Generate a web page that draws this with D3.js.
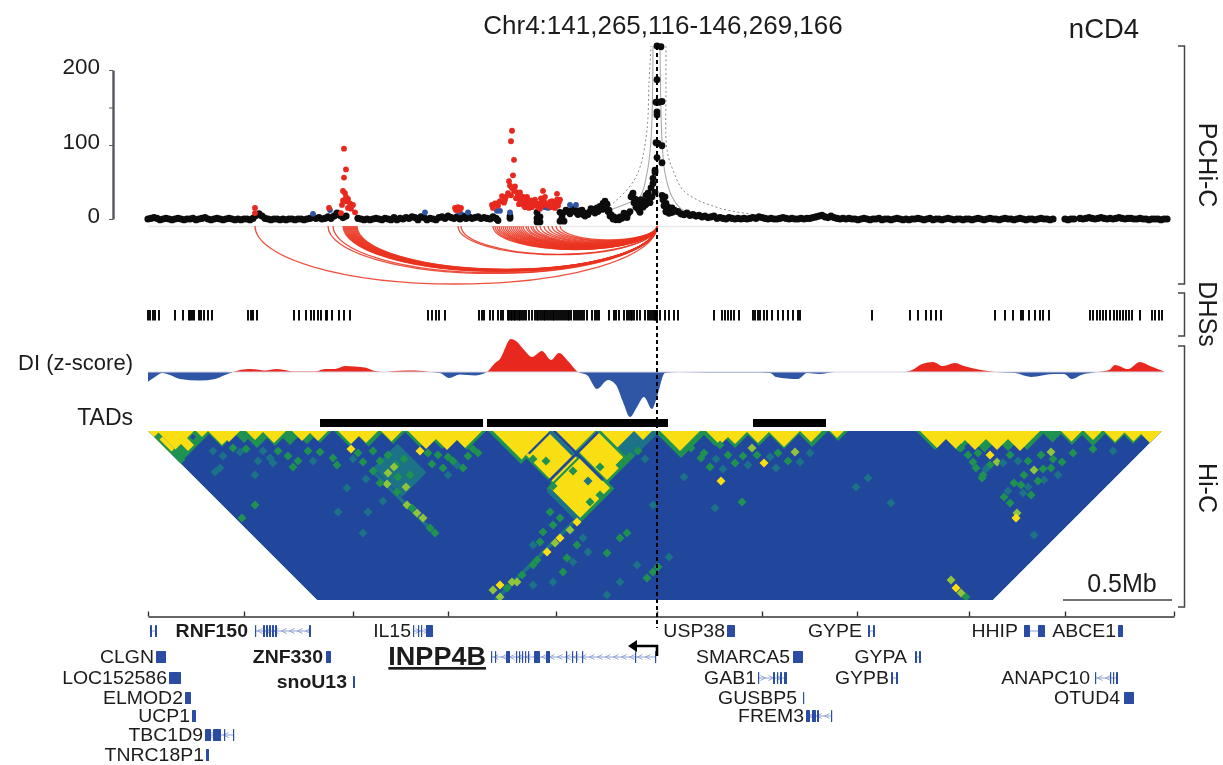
<!DOCTYPE html>
<html><head><meta charset="utf-8">
<script src="https://cdn.jsdelivr.net/npm/d3@7/dist/d3.min.js"></script>
<style>
html,body{margin:0;padding:0;background:#fff}
svg{display:block;filter:blur(0.6px)}
text{font-family:"Liberation Sans",Arial,sans-serif;fill:#1c1c1c}
</style></head><body><div id="chart"></div>
<script>
// genomic position is expressed in bins of ~4.9 kb from chr4:141,265,116
const axisTicks=[0,96,205,300,408,509,614,709,821,917,1026];
const viewpoint=509;
const yTicks=[0,100,150,200];
const yLabels=[0,100,200];
// PCHi-C: background (black) interactions, one value every 3 bins
const blackLeft=[2,3,4,3,1,2,3,2,1,2,3,2,1,2,2,3,1,2,3,4,2,1,2,3,2,1,2,3,2,1,2,1,2,2,1,3,7,9,6,3,2,1,2,2,1,2,1,2,2,1,2,2,1,2,3,4,3,4,2,3,5,3,6,10,7,4,6,null,null,null,3,2,1,2,1,2,3,2,1,3,2,1,4,1,3,2,4,3,5,4,1,5,4,1,3,2,1,4,5,3,6,4,3,5,2,6,3,5,3,4,5,3,4,3,2,5,3];
const blackMid=[[350,-2],[362,1],[362,4],[389,-4],[389,1],[389,9],[392,-4],[392,3],[412,-3],[412,9],[414,2],[416,-3],[420,10],[424,12],[428,9],[431,11],[435,6],[438,8],[442,10],[446,13],[449,15],[452,17],[455,21],[458,15],[460,10],[462,4],[465,0],[469,0],[472,3],[477,5],[480,7],[484,32],[485,35],[483,30],[487,27],[488,16],[490,14],[492,9],[494,21],[497,19],[499,26],[500,35],[501,30],[503,42],[505,55],[505,48],[507,63],[507,66],[508,103],[508,157],[509,144],[509,140],[509,187],[509,83],[509,232],[510,102],[511,157],[513,231],[514,158],[514,99],[514,76],[507,36],[514,32],[517,30],[515,26],[518,21],
[415,8],[418,12],[422,7],[426,14],[430,6],[434,12],[437,4],[440,6],[443,14],[447,8],[450,10],[454,13],[457,24],[459,20],[461,12],[463,6],[466,3],[468,-1],[471,-1],[474,1],[476,8],[479,2],[482,10],[486,22],[489,20],[491,12],[493,26],[495,16],[498,32],[498,20],[504,30],[502,22],[516,18],[520,16],[522,14],[524,15],[526,12]];
const blackRight=[12,10,11,13,12,9,8,10,7,8,6,7,5,6,4,5,6,3,4,3,2,4,3,2,3,2,3,2,3,4,3,5,4,3,2,3,2,2,3,4,3,2,3,2,2,3,2,3,3,4,5,6,7,5,4,6,4,3,2,3,2,3,2,2,1,2,3,2,1,2,2,3,1,2,2,1,2,3,2,1,2,1,2,2,3,2,1,2,3,1,2,2,1,2,3,2,1,2,2,1,2,2,1,2,3,2,1,2,3,2,2,1,2,3,2,2,1,2,3,2,1,2,2,1,2,3,2,2,1,2,null,null,null,2,1,2,2,null,3,2,3,4,3,2,3,4,3,2,3,2,3,4,3,2,3,3,2,2,3,2,2,1,2,2,2,1,2,2];
const redPoints=[[107,15],[107,8],[196,95],[198,67],[196,56],[195,38],[197,35],[198,30],[194,19],[202,21],[205,19],[200,15],[207,9],[193,8],[181,15],[310,16],[307,15],[313,15],[308,12],[311,12],[364,119],[363,105],[366,80],[365,59],[361,51],[367,44],[360,35],[369,36],[354,31],[370,32],[357,26],[349,21],[344,19],[345,15],[375,30],[379,26],[382,21],[374,21],[377,16],[387,19],[395,38],[397,30],[392,21],[372,36],[379,30],[384,16],[402,23],[409,34],[409,26],[406,21],[411,23],[390,16],
[362,45],[364,42],[366,38],[363,32],[368,28],[358,30],[356,22],[352,24],[350,18],[347,21],[372,26],[374,30],[371,20],[377,24],[380,20],[383,25],[385,21],[387,26],[376,18],[381,15],[389,21],[393,28],[396,24],[394,18],[398,20],[392,14],[400,18],[404,24],[407,15],[410,18],[412,26],[403,16],[198,24],[200,27],[195,25],[203,14]];
const bluePoints=[[165,7],[182,12],[277,9],[312,9],[320,9],[349,11],[352,11],[362,9],[397,16],[400,15],[422,19],[428,19]];
const expectedOuter=[[[445,9],[455,12],[469,26],[484,48],[492,70],[499,120],[501,183],[503,232]],[[518,232],[518,173],[519,93],[525,66],[535,39],[549,26],[562,19],[579,12],[612,5]]];
const expectedInner=[[[455,9],[479,21],[492,30],[499,62],[503,106],[505,232]],[[512,232],[514,106],[517,62],[524,30],[535,12],[562,5],[640,2]]];
const arcStarts=[107,180,185,195,196,197,198,199,200,201,202,203,204,205,206,207,208,209,310,313,345,347,349,351,353,355,357,359,361,363,365,367,369,371,373,375,378,380,383,385,388,392,396,400,404,408,412];
const dhsSites=[0,2,5,7,11,27,35,41,42,44,46,51,53,56,60,64,100,103,105,109,146,151,158,163,166,170,173,178,179,184,191,196,202,280,284,288,291,297,331,334,336,342,345,350,353,355,360,361,363,364,366,367,369,371,372,374,376,378,381,384,387,389,390,392,394,396,397,399,401,403,405,406,408,410,412,414,416,418,420,421,423,426,428,430,432,434,436,439,444,447,449,451,461,466,468,471,476,479,481,483,484,486,489,492,497,500,502,504,506,507,508,509,512,517,521,526,530,566,574,577,580,583,586,591,605,607,610,612,616,619,624,630,635,640,645,650,652,724,762,770,778,783,788,793,847,857,865,873,875,881,887,892,895,901,942,945,949,952,955,958,962,966,969,972,975,978,981,984,992,1004,1007,1011,1014];
// directionality index (bin, z-score)
const diValues=[[0,-.65],[7,-.33],[14,-.07],[22,-.2],[32,-.47],[52,-.57],[67,-.47],[77,-.2],[85,0],[102,.2],[117,.1],[129,.2],[147,.03],[167,.03],[177,.2],[187,.2],[197,.4],[217,.3],[227,.07],[237,0],[247,.07],[267,.1],[282,0],[292,-.07],[301,-.4],[312,-.17],[327,-.23],[337,-.07],[339,0],[347,.6],[352,.87],[363,2.2],[368,2.07],[377,1.4],[384,1],[394,1.4],[403,.8],[411,1.27],[420,.73],[430,0],[439,-.2],[449,-1.13],[460,-.53],[468,-.87],[475,-2],[482,-3],[489,-2.33],[496,-1.67],[504,-2.47],[509,-1.67],[517,-.07],[530,0],[560,-.03],[605,-.03],[622,-.07],[628,-.33],[650,-.47],[659,-.07],[671,-.13],[688,0],[757,0],[764,.13],[774,.53],[785,.67],[795,.4],[807,.6],[816,.4],[833,.13],[847,0],[867,-.07],[883,-.33],[905,-.13],[916,-.13],[924,-.47],[933,-.2],[950,0],[961,.13],[967,.47],[980,.2],[992,.67],[1002,.4],[1016,.03]];
const tads=[[172,335],[339,520],[605,678]];
// Hi-C: contact level 0 (blue) to 4 (yellow)
const hicLevels=["#20479c","#1c7286","#1f9150","#8fc43c","#f8de13"];
// triangles on the diagonal: from, to, level
const hicTriangles=[[0,64,2],[58,90,2],[84,108,2],[92,126,2],[112,142,2],[128,156,2],[146,172,2],[160,184,2],[186,216,2],[205,236,2],[232,258,2],[256,288,2],[276,312,2],[300,338,2],[340,406,2],[402,452,2],[448,512,1],[506,560,2],[552,582,2],[570,604,2],[596,626,2],[618,654,2],[648,680,2],[680,700,2],[768,806,2],[790,832,2],[815,858,2],[840,880,2],[860,898,2],[893,916,2],[910,938,2],[930,960,2],[954,980,2],[972,998,2],[990,1014,2],
[0,46,4],[20,60,4],[60,88,4],[70,92,4],[98,116,4],[114,138,4],[144,164,4],[160,180,4],[190,216,4],[206,230,4],[233,254,4],[260,296,4],[280,318,4],[300,334,4],[512,552,4],[558,586,4],[574,600,4],[598,622,4],[620,652,4],[652,674,4],[682,696,4],[772,806,4],[790,826,4],[808,846,4],[830,868,4],[852,892,4],[913,934,4],[936,954,4],[956,978,4],[975,996,4],[990,1014,4],
[345,402,4],[402,449,4],[449,486,4],[486,504,4]];
// rectangles in contact space: i from, i to, j from, j to, level
const hicBlocks=[[182,187,266,386,1],[178,345,514,519,1],[0,9,12,66,2],[3,9,20,44,4],[188,237,262,320,1],[32,48,46,62,2],
[341,409,456,524,2],[351,404,402,458,2],[406,453,447,512,2],[345,405,459,519,4],[354,402,402,456,4],[410,449,449,508,4],
[404,408,405,504,0],[351,449,449,453,0],[358,402,402,405,0],[338,345,459,520,1],[399,404,402,449,1],[36,42,48,54,0]];
// isolated cells: bin midpoint, half separation, level
const hicSpots=[[145,36,2],[107,44,1],[199,57,1],[107,74,2],[94,87,2],[215,102,1],[190,81,1],[220,81,1],[235,70,1],[259,74,3],[239,53,3],[272,20,4],[203,18,4],[284,33,2],[215,31,2],[185,27,2],[189,34,2],[72,37,1],[67,41,1],[85,17,2],[92,21,1],[122,27,1],[172,21,2],[315,37,2],[309,34,1],[295,37,2],[269,82,3],[275,87,3],[282,97,2],[287,102,2],[264,77,2],[249,61,2],
[225,20,2],[232,30,2],[240,24,2],[248,34,2],[256,28,2],[240,42,3],[225,40,2],[250,46,2],[262,44,2],[232,52,2],[218,48,1],[270,40,1],[258,56,3],[246,36,3],[280,22,2],[160,20,2],[165,30,1],[130,20,2],[125,32,1],[140,25,2],[150,30,2],[115,20,1],[110,30,1],[65,20,1],[75,25,1],[98,18,2],[205,28,1],[210,22,2],[290,24,2],[300,26,2],[305,30,2],[320,25,2],[330,22,2],[325,18,2],[300,44,1],
[429,91,4],[422,99,3],[412,107,4],[407,112,3],[399,121,4],[389,129,2],[385,134,2],[374,144,2],[364,151,3],[352,154,4],[345,159,3],[352,166,3],[359,157,2],[369,151,3],[405,94,2],[395,101,2],[429,114,2],[435,107,1],[419,127,2],[425,131,1],[392,111,2],[385,114,1],[472,107,2],[479,102,2],[459,122,2],[472,151,1],[499,147,2],[489,134,1],[415,141,2],[405,151,1],[385,154,1],[459,164,1],[505,141,2],[440,121,1],[402,81,2],[412,87,2],[442,71,2],[452,64,2],[472,34,2],[476,30,2],[425,40,2],[452,36,2],[440,50,1],[398,30,2],[385,28,2],[405,55,2],[490,20,2],[497,28,1],[482,25,2],
[553,27,2],[562,36,2],[543,17,2],[573,50,4],[572,14,2],[587,32,2],[594,71,2],[604,17,3],[616,32,4],[609,24,2],[628,37,1],[647,21,3],[652,31,1],[536,46,1],[567,77,1],[510,136,2],[521,126,1],[505,74,1],[720,47,1],[708,56,1],[743,72,1],[808,157,4],[803,149,3],[818,166,2],[813,162,3],[813,17,2],[825,31,2],[835,44,2],[842,24,4],[849,31,3],[828,37,2],[903,21,3],[893,24,2],[886,39,3],[873,54,2],[856,66,2],[862,72,2],[869,82,3],[868,87,4],[883,64,2],[903,37,2],[914,31,2],[896,49,1],[886,104,1],[876,44,2],[866,52,2],[834,47,2],
[556,22,2],[568,28,1],[580,24,2],[595,25,2],[600,34,1],[622,26,1],[630,22,2],[640,30,2],[662,22,1],[575,38,1],[820,24,2],[830,22,2],[842,34,2],[838,38,1],[855,32,1],[862,24,2],[870,30,1],[880,30,2],[895,38,2],[905,28,2],[910,44,1],[880,56,1],[890,50,2],[875,62,1],[860,60,1],[925,22,2],[945,18,2],[965,20,1]];
const hicCell=4.5;
// genes
const geneNames=["","RNF150","IL15","USP38","GYPE","HHIP","ABCE1","CLGN","ZNF330","INPP4B","SMARCA5","GYPA","LOC152586","snoU13","GAB1","GYPB","ANAPC10","ELMOD2","GUSBP5","OTUD4","UCP1","FREM3","TBC1D9","TNRC18P1"];
const geneLanes=[0,0,0,0,0,0,0,1,1,1,1,1,2,2.2,2,2,2,3,3,3,4,4,5,6];
const geneStrand=[0,-1,1,0,0,0,0,0,0,-1,0,0,0,0,1,0,-1,0,0,0,0,-1,-1,0];
const geneExons=[[[2,4],[7,9]],[[107,108],[115,117],[118,120],[121,123],[124,126],[127,129],[161,163]],[[265,266],[270,271],[273,274],[278,285]],[[579,587]],[[720,722],[725,727]],[[876,882],[890,897]],[[970,975]],[[8,18]],[[178,183]],[[343,344],[347,348],[358,362],[368,369],[371,372],[374,375],[377,378],[380,381],[386,392],[398,402],[418,419],[424,425],[428,429],[434,435],[487,488],[507,508]],[[645,655]],[[767,769],[771,773]],[[21,33]],[[205,207]],[[610,611],[625,627],[629,630],[632,634],[636,639]],[[743,745],[748,750]],[[947,948],[962,963],[965,966],[968,970]],[[37,43]],[[655,656]],[[976,986]],[[44,48]],[[658,662],[664,668],[669,671],[683,684]],[[57,63],[65,73],[76,77],[85,86]],[[58,61]]];
const boldGenes=["RNF150","ZNF330","snoU13","INPP4B"];
const labelGaps={RNF150:7,snoU13:6,GUSBP5:6,GYPA:8,GYPE:6,HHIP:6,ANAPC10:5,OTUD4:4,SMARCA5:3,ZNF330:3};
const tracks=["PCHi-C","DHSs","Hi-C"];
const sideLabels=["DI (z-score)","TADs"];

const svg=d3.select("#chart").append("svg").attr("width",1223).attr("height",765);
const x=d3.scaleLinear([0,1026],[148,1174]);
const y=d3.scaleLinear([0,100,200],[219,145,70]);
const di=d3.scaleLinear([-3,3],[417,327]);
const hicY=d3.scaleLinear([0,338],[431,600]);
const lanes=d3.scaleLinear([0,1,2,3,4,5,6],[631,657,678,698,716,735,755]);
const level=d3.scaleOrdinal([0,1,2,3,4],hicLevels);
const red="#e8281e",blue="#2f55a5";

// title
svg.append("text").attr("x",663).attr("y",34).attr("text-anchor","middle").attr("font-size",26).text("Chr4:141,265,116-146,269,166");
svg.append("text").attr("x",1104).attr("y",38).attr("text-anchor","middle").attr("font-size",27.5).text("nCD4");

// y axis
const ya=svg.append("g").attr("transform","translate(113,0)").call(d3.axisLeft(y).tickValues(yTicks).tickSize(4).tickSizeOuter(0).tickFormat(""));
ya.selectAll("path,line").attr("stroke","#55555d");ya.select("path").attr("stroke-width",2.4);
svg.selectAll(".ylab").data(yLabels).join("text").attr("x",100).attr("y",d=>y(d)+4).attr("text-anchor","end").attr("font-size",22.5).text(d=>d);

// baseline + expected curves
svg.append("line").attr("x1",x(0)).attr("x2",x(1012)).attr("y1",226.5).attr("y2",226.5).attr("stroke","#ececec").attr("stroke-width",1.6);
const curveX=d3.line().x(d=>x(d[0])).y(d=>y(d[1])).curve(d3.curveCatmullRom);
svg.selectAll(".eo").data(expectedOuter).join("path").attr("d",curveX).attr("fill","none").attr("stroke","#888").attr("stroke-width",1).attr("stroke-dasharray","2 2.5");
svg.selectAll(".ei").data(expectedInner).join("path").attr("d",curveX).attr("fill","none").attr("stroke","#aaa").attr("stroke-width",1.1);

// PCHi-C points
const band=[...blackLeft.map((v,k)=>[k*3,v]),...blackRight.map((v,k)=>[518+k*3,v])].filter(d=>d[1]!==null);
svg.selectAll(".bd").data(band).join("circle").attr("cx",d=>x(d[0])).attr("cy",d=>y(d[1])+1.5).attr("r",3.6).attr("fill","#0c0c0c");
svg.selectAll(".b").data(blackMid).join("circle").attr("cx",d=>x(d[0])).attr("cy",d=>y(d[1])).attr("r",3.4).attr("fill","#0c0c0c");
svg.selectAll(".bl").data(bluePoints).join("circle").attr("cx",d=>x(d[0])).attr("cy",d=>y(d[1])).attr("r",2.9).attr("fill",blue);
svg.selectAll(".r").data(redPoints).join("circle").attr("cx",d=>x(d[0])).attr("cy",d=>y(d[1])).attr("r",2.9).attr("fill",red);

// arcs
const arcDepth=d3.scaleLinear([0,402],[0,58]);
svg.selectAll(".arc").data(arcStarts).join("path")
 .attr("d",s=>{const rx=(x(viewpoint)-x(s))/2,ry=arcDepth(viewpoint-s);return `M${x(s)},226 A${rx},${ry} 0 0 0 ${x(viewpoint)},226`;})
 .attr("fill","none").attr("stroke","#ea3420").attr("stroke-width",1.3).attr("stroke-opacity",.85);

// DHS
svg.selectAll(".dhs").data(dhsSites).join("line").attr("x1",d=>x(d)).attr("x2",d=>x(d)).attr("y1",310).attr("y2",320.5).attr("stroke","#000").attr("stroke-width",1.9);

// DI
const defs=svg.append("defs");
defs.append("clipPath").attr("id","pos").append("rect").attr("x",140).attr("y",320).attr("width",1040).attr("height",di(0)-320);
defs.append("clipPath").attr("id","neg").append("rect").attr("x",140).attr("y",di(0)).attr("width",1040).attr("height",60);
const diArea=d3.area().x(d=>x(d[0])).y0(di(0)).y1(d=>di(d[1])).curve(d3.curveMonotoneX);
svg.append("path").attr("d",diArea(diValues)).attr("fill",red).attr("clip-path","url(#pos)");
svg.append("path").attr("d",diArea(diValues)).attr("fill",blue).attr("clip-path","url(#neg)");
svg.append("line").attr("x1",x(0)).attr("x2",x(1016)).attr("y1",di(0)).attr("y2",di(0)).attr("stroke","#d9d4e4").attr("stroke-width",1);

// side labels
svg.append("text").attr("x",133).attr("y",370).attr("text-anchor","end").attr("font-size",22).text(sideLabels[0]);
svg.append("text").attr("x",133).attr("y",425).attr("text-anchor","end").attr("font-size",23).text(sideLabels[1]);

// TADs
svg.selectAll(".tad").data(tads).join("rect").attr("x",d=>x(d[0])).attr("width",d=>x(d[1])-x(d[0])).attr("y",419).attr("height",8).attr("fill","#000");

// Hi-C
const pt=(i,j)=>[x((i+j)/2),hicY(j-i)];
const poly=c=>"M"+c.map(d=>pt(d[0],d[1]).join(",")).join("L")+"Z";
defs.append("clipPath").attr("id","hic").append("path").attr("d",poly([[0,0],[0,338],[676,1014],[1014,1014]]));
const hic=svg.append("g").attr("clip-path","url(#hic)");
hic.append("path").attr("d",poly([[0,0],[0,338],[676,1014],[1014,1014]])).attr("fill",hicLevels[0]);
hic.selectAll(".tri").data(hicTriangles).join("path").attr("d",d=>poly([[d[0],d[0]],[d[0],d[1]],[d[1],d[1]]])).attr("fill",d=>level(d[2]));
hic.selectAll(".blk").data(hicBlocks).join("path").attr("d",d=>poly([[d[0],d[2]],[d[1],d[2]],[d[1],d[3]],[d[0],d[3]]])).attr("fill",d=>level(d[4]));
hic.selectAll(".spot").data(hicSpots).join("path").attr("d",d=>{const i=d[0]-d[1],j=d[0]+d[1],c=hicCell;return poly([[i-c,j-c],[i+c,j-c],[i+c,j+c],[i-c,j+c]]);}).attr("fill",d=>level(d[2]));

// scale bar
svg.append("text").attr("x",1122).attr("y",592).attr("text-anchor","middle").attr("font-size",25).text("0.5Mb");
svg.append("line").attr("x1",x(915)).attr("x2",x(1024)).attr("y1",600).attr("y2",600).attr("stroke","#444").attr("stroke-width",1.5);

// genome axis
const xa=svg.append("g").attr("transform","translate(0,616.5)").call(d3.axisTop(x).tickValues(axisTicks).tickSize(5).tickSizeOuter(0).tickFormat(""));
xa.selectAll("path,line").attr("stroke","#333").attr("stroke-width",1.4);

// viewpoint line
svg.append("line").attr("x1",x(viewpoint)).attr("x2",x(viewpoint)).attr("y1",46).attr("y2",628).attr("stroke","#000").attr("stroke-width",2).attr("stroke-dasharray","4 3");

// genes
const genes=geneNames.map((name,k)=>({name,lane:geneLanes[k],strand:geneStrand[k],exons:geneExons[k]}));
const gg=svg.selectAll(".gene").data(genes).join("g");
gg.each(function(g){
  const s=d3.select(this),yy=lanes(g.lane),a=g.exons[0][0],b=g.exons[g.exons.length-1][1];
  if(g.exons.length>1) s.append("line").attr("x1",x(a)).attr("x2",x(b)).attr("y1",yy).attr("y2",yy).attr("stroke","#8ea0d2").attr("stroke-width",1);
  if(g.strand) d3.range(a+5,b-2,8).forEach(p=>{
    const d=g.strand*2.5;
    s.append("path").attr("d",`M${x(p)-d},${yy-2.5}L${x(p)+d},${yy}L${x(p)-d},${yy+2.5}`).attr("fill","none").attr("stroke","#8ea0d2").attr("stroke-width",.9);
  });
  s.selectAll("rect").data(g.exons).join("rect").attr("x",d=>x(d[0])).attr("width",d=>Math.max(1.2,x(d[1])-x(d[0]))).attr("y",yy-6).attr("height",12).attr("rx",.6).attr("fill","#2b4ca3");
  if(g.name){
    const big=g.name==="INPP4B";
    const t=s.append("text").attr("x",x(a)-(big?5:(labelGaps[g.name]||2))).attr("y",yy+(big?8:6)).attr("text-anchor","end").attr("font-size",big?26.5:18).attr("font-weight",boldGenes.includes(g.name)?"bold":"normal").text(g.name);
    t.attr("textLength",t.node().getComputedTextLength()*(big?1.02:1.08)).attr("lengthAdjust","spacingAndGlyphs");
    if(big) t.attr("text-decoration","underline");
  }
});
// TSS arrow
svg.append("path").attr("d",`M${x(viewpoint)},656 V646 H${x(viewpoint)-21}`).attr("fill","none").attr("stroke","#000").attr("stroke-width",2.6);
svg.append("path").attr("d",`M${x(viewpoint)-29},646 l9,-6 v12 Z`).attr("fill","#000");

// brackets
const brackets=[[46,284,165],[293,336,314],[346,607,488]];
brackets.forEach((b,k)=>{
  svg.append("path").attr("d",`M1178,${b[0]} H1184.5 V${b[1]} H1178`).attr("fill","none").attr("stroke","#444").attr("stroke-width",1.5);
  svg.append("text").attr("transform",`translate(1199,${b[2]}) rotate(90)`).attr("text-anchor","middle").attr("font-size",25).text(tracks[k]);
});
</script></body></html>
